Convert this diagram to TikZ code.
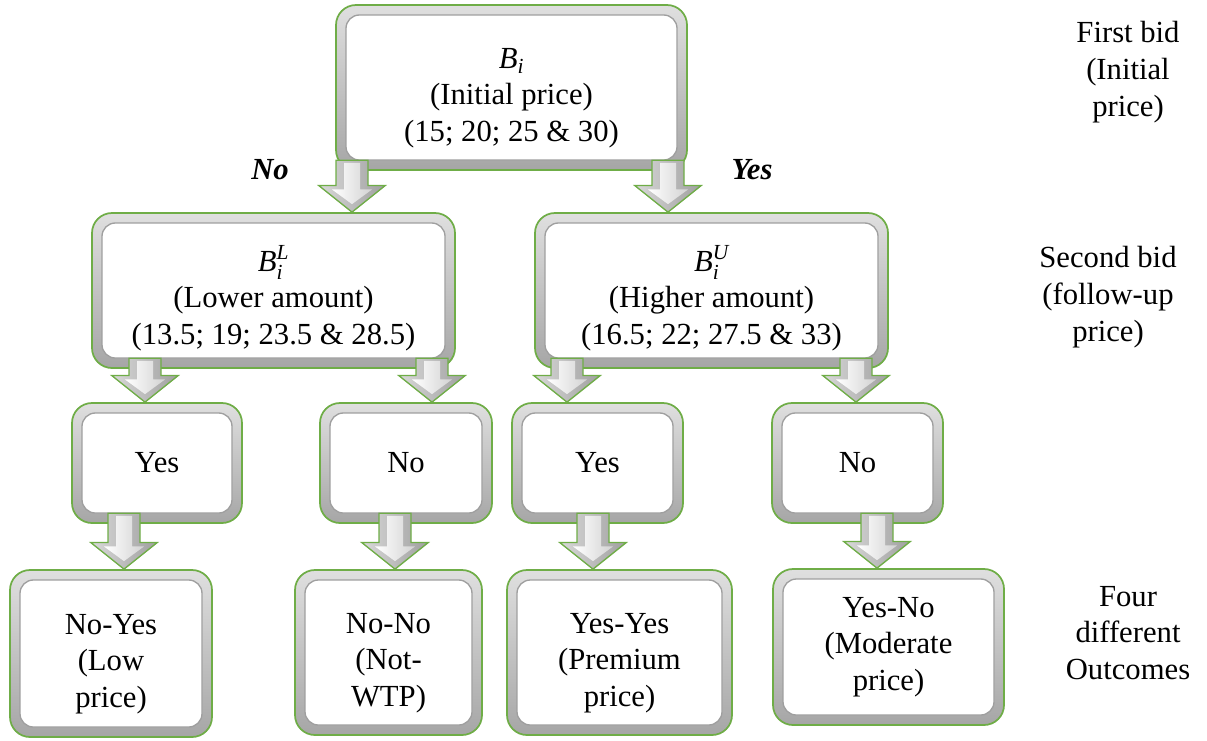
\documentclass[tikz,border=0pt]{standalone}
\usepackage{fontspec}
\setmainfont{Liberation Serif}
\newfontfamily\tnr{Liberation Serif}
\usetikzlibrary{calc}
\definecolor{boxgreen}{HTML}{6FAD47}
\newcommand\toppad{\rule{0pt}{31pt}}
\tikzset{
  bevbox/.style={rounded corners=15pt, draw=boxgreen, line width=1.3pt,
    top color=gray!25, bottom color=gray!70, inner sep=0pt, align=center,
    path picture={
      \fill[white, rounded corners=10pt]
        ([shift={(7.5pt,7.5pt)}]path picture bounding box.south west) rectangle
        ([shift={(-7.5pt,-7.5pt)}]path picture bounding box.north east);
      \draw[gray!75, line width=1pt, rounded corners=10pt]
        ([shift={(7.5pt,7.5pt)}]path picture bounding box.south west) rectangle
        ([shift={(-7.5pt,-7.5pt)}]path picture bounding box.north east);
    }},
  arrowouter/.style={draw=boxgreen, line width=1pt, left color=gray!30, right color=gray!75},
  arrowinner/.style={left color=white, right color=gray!35},
  sidetext/.style={align=center},
  choice/.style={font=\tnr\fontsize{23}{27.5}\selectfont\bfseries\itshape}
}
\newcommand\blockarrow[3]{%
  \path[arrowouter] let \p1=(#1.south -| #3), \p2=(#2.north -| #3) in
    (\x1-12pt,\y1+8pt) -- (\x1-12pt,\y2+20pt) -- (\x1-25pt,\y2+20pt) -- (\x2,\y2)
    -- (\x1+25pt,\y2+20pt) -- (\x1+12pt,\y2+20pt) -- (\x1+12pt,\y1+8pt) -- cycle;
  \path[arrowinner] let \p1=(#1.south -| #3), \p2=(#2.north -| #3) in
    (\x1-6pt,\y1+6pt) -- (\x1-6pt,\y2+17pt) -- (\x1-15pt,\y2+17pt) -- (\x2,\y2+6pt)
    -- (\x1+15pt,\y2+17pt) -- (\x1+6pt,\y2+17pt) -- (\x1+6pt,\y1+6pt) -- cycle;
}
\begin{document}
\begin{tikzpicture}[x=0.75pt,y=-0.75pt, font=\tnr\fontsize{23}{27.5}\selectfont]
\useasboundingbox (0,0) rectangle (1207,740);

% level 1
\node[bevbox, minimum width=263.25pt, minimum height=123.75pt] (top) at (511.5,87.5)
  {\toppad$\mathit{B}_{\mathit{i}}$\\(Initial price)\\(15; 20; 25 \& 30)};
% level 2
\node[bevbox, minimum width=272.25pt, minimum height=116.25pt] (low) at (273.5,290.5)
  {\toppad$\mathit{B}_{\mathit{i}}^{\mathit{L}}$\\(Lower amount)\\(13.5; 19; 23.5 \& 28.5)};
\node[bevbox, minimum width=264.75pt, minimum height=116.25pt] (up) at (711.5,290.5)
  {\toppad$\mathit{B}_{\mathit{i}}^{\mathit{U}}$\\(Higher amount)\\(16.5; 22; 27.5 \& 33)};
% level 3
\node[bevbox, minimum width=127.5pt, minimum height=90pt] (y1) at (157,463) {Yes};
\node[bevbox, minimum width=129pt, minimum height=90pt] (n1) at (406,463) {No};
\node[bevbox, minimum width=128.25pt, minimum height=90pt] (y2) at (597.5,463) {Yes};
\node[bevbox, minimum width=128.25pt, minimum height=90pt] (n2) at (857.5,463) {No};
% level 4
\node[bevbox, minimum width=151.5pt, minimum height=125.25pt] (o1) at (111,653.5) {\toppad No-Yes\\(Low\\price)};
\node[bevbox, minimum width=140.25pt, minimum height=123.75pt] (o2) at (388.5,652.5) {\toppad No-No\\(Not-\\WTP)};
\node[bevbox, minimum width=168.75pt, minimum height=123.75pt] (o3) at (619.5,652.5) {\toppad Yes-Yes\\(Premium\\price)};
\node[bevbox, minimum width=173.25pt, minimum height=117pt] (o4) at (888.5,647) {Yes-No\\(Moderate\\price)};

% arrow x positions
\coordinate (a1) at (352,0);
\coordinate (a2) at (668,0);
\coordinate (b1) at (145,0);
\coordinate (b2) at (432,0);
\coordinate (b3) at (567,0);
\coordinate (b4) at (856,0);
\coordinate (c1) at (124,0);
\coordinate (c2) at (395,0);
\coordinate (c3) at (593,0);
\coordinate (c4) at (877,0);

\blockarrow{top}{low}{a1}
\blockarrow{top}{up}{a2}
\blockarrow{low}{y1}{b1}
\blockarrow{low}{n1}{b2}
\blockarrow{up}{y2}{b3}
\blockarrow{up}{n2}{b4}
\blockarrow{y1}{o1}{c1}
\blockarrow{n1}{o2}{c2}
\blockarrow{y2}{o3}{c3}
\blockarrow{n2}{o4}{c4}

% branch labels
\node[choice] (lno) at (270,170) {No};
\node[choice] (lyes) at (752,170) {Yes};

% side texts
\node[sidetext] (s1) at (1128,72) {First bid\\(Initial\\price)};
\node[sidetext] (s2) at (1108,297) {Second bid\\(follow-up\\price)};
\node[sidetext] (s3) at (1128,633) {Four\\different\\Outcomes};
\end{tikzpicture}
\end{document}
